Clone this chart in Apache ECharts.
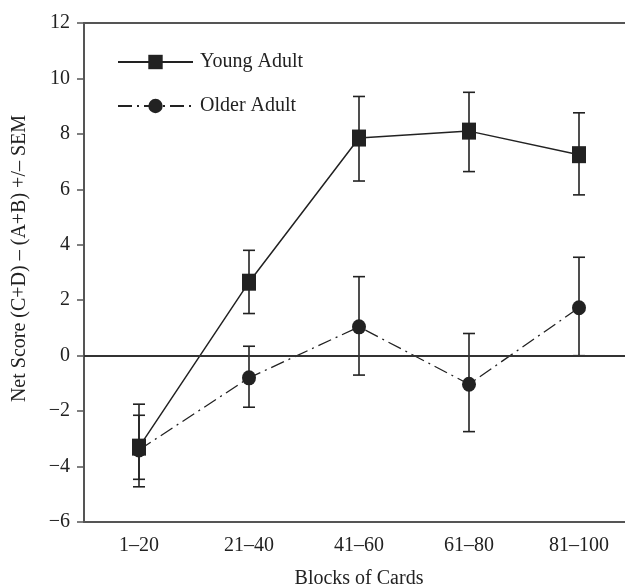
<!DOCTYPE html>
<html>
<head>
<meta charset="utf-8">
<script src="https://cdn.jsdelivr.net/npm/echarts@6/dist/echarts.min.js"></script>
<style>
  html, body { margin: 0; padding: 0; background: #fff; }
  #chart { width: 625px; height: 587px; }
</style>
</head>
<body>
<div id="chart"></div>
<script>
var blocks = ['1–20', '21–40', '41–60', '61–80', '81–100'];
var youngMean = [-3.3, 2.65, 7.85, 8.1, 7.25];
var youngLow = [-4.73, 1.52, 6.3, 6.64, 5.8];
var youngHigh = [-1.75, 3.8, 9.35, 9.5, 8.76];
var olderMean = [-3.4, -0.8, 1.04, -1.03, 1.73];
var olderLow = [-4.46, -1.86, -0.7, -2.74, 0.0];
var olderHigh = [-2.15, 0.34, 2.85, 0.8, 3.55];
var yTicks = { min: -6, max: 12, step: 2 };

var serif = 'Liberation Serif';
var ink = '#222';

function errorData(lo, hi) {
  return blocks.map(function (b, i) { return [i, lo[i], hi[i]]; });
}

function renderErr(params, api) {
  var x = api.value(0);
  var top = api.coord([x, api.value(2)]);
  var bot = api.coord([x, api.value(1)]);
  var cap = 6;
  var st = { stroke: ink, lineWidth: 1.6 };
  return {
    type: 'group',
    children: [
      { type: 'line', shape: { x1: top[0], y1: top[1], x2: bot[0], y2: bot[1] }, style: st },
      { type: 'line', shape: { x1: top[0] - cap, y1: top[1], x2: top[0] + cap, y2: top[1] }, style: st },
      { type: 'line', shape: { x1: bot[0] - cap, y1: bot[1], x2: bot[0] + cap, y2: bot[1] }, style: st }
    ]
  };
}

var option = {
  animation: false,
  backgroundColor: '#fff',
  textStyle: { fontFamily: serif },
  grid: {
    left: 84, width: 550, top: 23, height: 499,
    outerBoundsMode: 'none',
    containLabel: false
  },
  legend: {
    left: 112, top: 47, orient: 'vertical',
    itemWidth: 75, itemHeight: 18, itemGap: 24,
    textStyle: { fontFamily: serif, fontSize: 20, color: ink, padding: [0, 0, 0, 2] },
    data: ['Young Adult', 'Older Adult']
  },
  xAxis: [{
    type: 'category',
    data: blocks,
    boundaryGap: true,
    name: 'Blocks of Cards',
    nameLocation: 'middle',
    nameGap: 47,
    nameTextStyle: { fontFamily: serif, fontSize: 20, color: ink },
    axisLine: { onZero: false, lineStyle: { color: '#555', width: 2 } },
    axisTick: { show: false },
    axisLabel: { fontFamily: serif, fontSize: 20, color: ink, margin: 14 },
    splitLine: { show: false }
  }, {
    // top frame line only
    type: 'category',
    data: blocks,
    position: 'top',
    axisLine: { onZero: false, lineStyle: { color: '#555', width: 2 } },
    axisTick: { show: false },
    axisLabel: { show: false },
    splitLine: { show: false }
  }],
  yAxis: {
    type: 'value',
    min: yTicks.min, max: yTicks.max, interval: yTicks.step,
    name: 'Net Score (C+D) – (A+B) +/– SEM',
    nameLocation: 'middle',
    nameGap: 54,
    nameTextStyle: { fontFamily: serif, fontSize: 20, color: ink, padding: [0, 0, 0, 28] },
    axisLine: { show: true, lineStyle: { color: '#555', width: 2 } },
    axisTick: { show: true, length: 7, lineStyle: { color: '#555', width: 1.5 } },
    axisLabel: {
      fontFamily: serif, fontSize: 20, color: ink, margin: 14,
      formatter: function (v) { return v < 0 ? '−' + Math.abs(v) : String(v); }
    },
    splitLine: { show: false }
  },
  series: [
    {
      name: 'Young Adult', type: 'line', data: youngMean,
      symbol: 'rect', symbolSize: [14, 17],
      itemStyle: { color: ink },
      lineStyle: { color: ink, width: 1.5, type: 'solid' },
      z: 4,
      markLine: {
        silent: true, symbol: 'none', label: { show: false },
        lineStyle: { color: '#333', width: 2, type: 'solid' },
        data: [{ yAxis: 0 }]
      }
    },
    {
      name: 'Older Adult', type: 'line', data: olderMean,
      symbol: 'circle', symbolSize: [14, 15],
      itemStyle: { color: ink },
      lineStyle: { color: ink, width: 1.3, type: [14, 5, 2, 5] },
      z: 3
    },
    {
      type: 'custom', renderItem: renderErr, data: errorData(youngLow, youngHigh),
      encode: { x: 0, y: [1, 2] }, z: 2, silent: true
    },
    {
      type: 'custom', renderItem: renderErr, data: errorData(olderLow, olderHigh),
      encode: { x: 0, y: [1, 2] }, z: 2, silent: true
    }
  ]
};

var chart = echarts.init(document.getElementById('chart'));
chart.setOption(option);
</script>
</body>
</html>
